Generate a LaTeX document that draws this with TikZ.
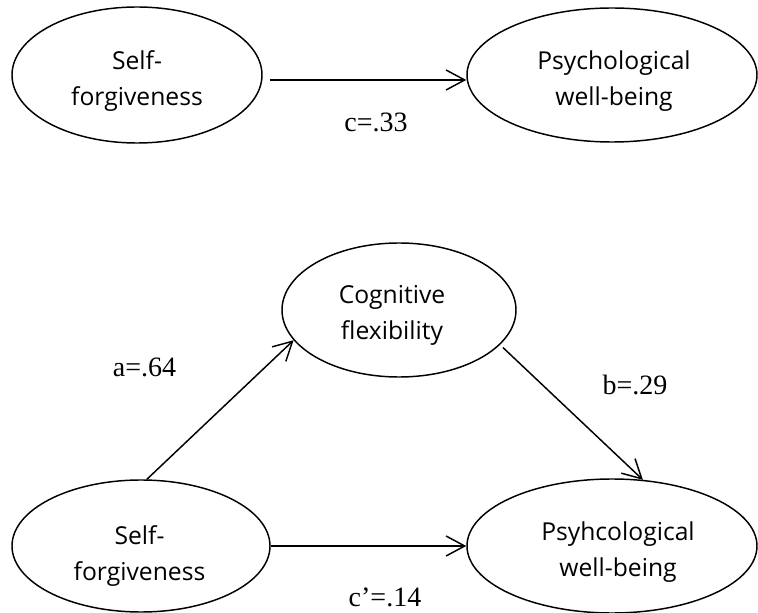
\documentclass[tikz,border=0pt]{standalone}
\usepackage{fontspec}
\setmainfont{Liberation Serif}
\newfontfamily\labelsans{Open Sans}
\usetikzlibrary{shapes.geometric,arrows.meta}
\begin{document}
\begin{tikzpicture}[x=0.75pt,y=-0.75pt,
  latent/.style={draw, ellipse, line width=1.1pt, inner sep=0pt},
  ltext/.style={inner sep=0pt, align=center,
    font=\labelsans\fontsize{18.5}{27}\selectfont},
  effect/.style={line width=1.1pt, -{Straight Barb[length=14pt,width=15pt]}},
  coef/.style={font=\fontsize{21}{24}\selectfont, anchor=base, inner sep=0pt}]
\useasboundingbox (0,0) rectangle (758,613);
% top model
\node[latent, minimum width=187.5pt, minimum height=102pt] (sf1) at (137,75) {};
\node[ltext] (sf1t) at (137,81) {Self-\\forgiveness};
\node[latent, minimum width=217.5pt, minimum height=100.5pt] (pwb1) at (612,75) {};
\node[ltext] (pwb1t) at (614,81) {Psychological\\well-being};
\draw[effect, shorten <=5.25pt] ([yshift=-3.75pt]sf1.east) -- ([yshift=-3.75pt]pwb1.west);
\node[coef] (lc) at (376,132) {c=.33};
% mediation model
\node[latent, minimum width=175.5pt, minimum height=100.5pt] (cf) at (399,310) {};
\node[ltext] (cft) at (392,315) {Cognitive\\flexibility};
\node[latent, minimum width=193.5pt, minimum height=99pt] (sf2) at (141,546) {};
\node[ltext] (sf2t) at (139.5,556) {Self-\\forgiveness};
\node[latent, minimum width=217.5pt, minimum height=100.5pt] (pwb2) at (612,546) {};
\node[ltext] (pwb2t) at (618,552) {Psyhcological\\well-being};
\draw[effect] (sf2.85) -- (cf.196);
\draw[effect, shorten <=3pt] (cf.-19) -- (pwb2.65);
\draw[effect] (sf2.east) -- (pwb2.west);
\node[coef] (la) at (144.5,377) {a=.64};
\node[coef] (lb) at (635,395) {b=.29};
\node[coef] (lcp) at (385,606) {c’=.14};
\end{tikzpicture}
\end{document}
